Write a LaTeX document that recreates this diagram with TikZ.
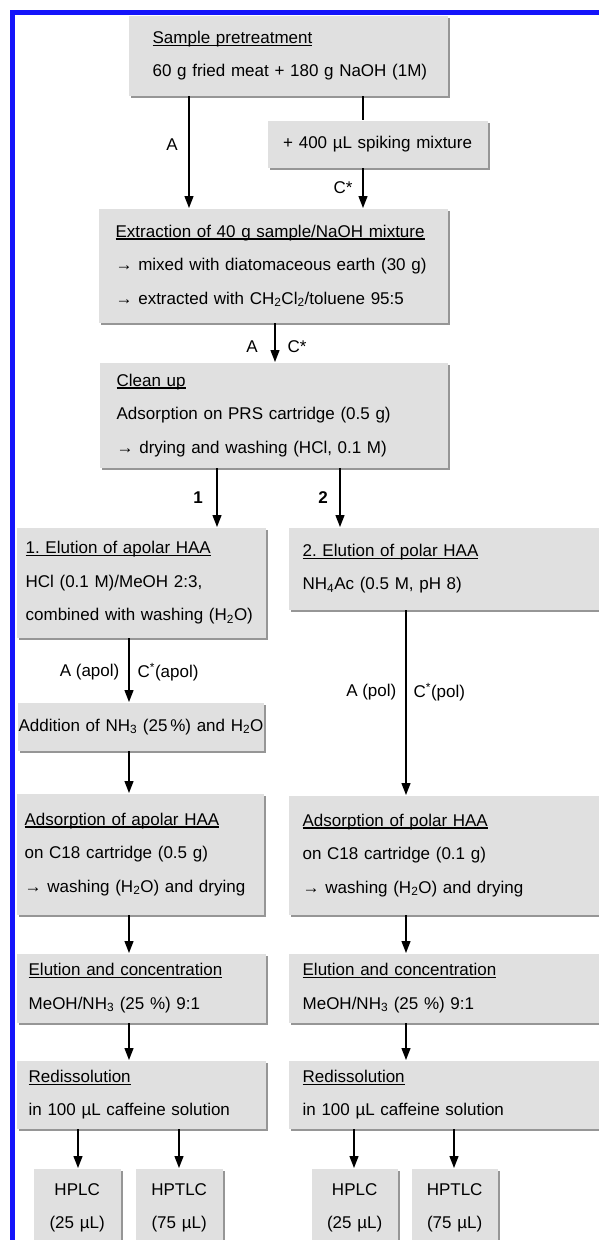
\documentclass[tikz,border=0pt]{standalone}
\usepackage{fontspec}
\setmainfont{Liberation Sans}
\usetikzlibrary{arrows.meta,shadows}
\frenchspacing
\definecolor{boxgray}{RGB}{224,224,224}
\definecolor{shadegray}{RGB}{150,150,150}
\definecolor{framebl}{RGB}{20,20,250}
\newcommand{\ulhead}[1]{\setbox0\hbox{#1}\rlap{\rule[-2.5pt]{\wd0}{1.1pt}}\box0}
\tikzset{
  every node/.style={font=\fontsize{17}{33.5}\selectfont},
  stepbox/.style={anchor=north west,fill=boxgray,drop shadow={shadow xshift=2pt,shadow yshift=-2pt,fill=shadegray,opacity=1},inner ysep=0pt,align=left},
  midbox/.style={stepbox,align=center},
  flowlabel/.style={inner sep=0pt}
}
\begin{document}
\begin{tikzpicture}[x=1pt,y=-1pt,>={Stealth[length=12pt,width=9pt,inset=0pt]},line width=1.3pt]
\useasboundingbox (0,0) rectangle (599,1240);
\draw[framebl,line width=5pt] (12.5,1250) -- (12.5,12.5) -- (610,12.5);
\node[stepbox,text width=271pt,inner xsep=24pt,minimum height=80pt] (pre) at (128,15) {\ulhead{Sample pretreatment}\\\mbox{60 g fried meat + 180 g NaOH (1M)}};
\node[midbox,text width=210pt,inner xsep=5pt,minimum height=47pt] (spike) at (267,120) {+ 400 µL spiking mixture};
\node[stepbox,text width=315pt,inner xsep=17pt,minimum height=114pt] (extr) at (98,208) {\ulhead{Extraction of 40 g sample/NaOH mixture}\\→ mixed with diatomaceous earth (30 g)\\→ extracted with CH\textsubscript{2}Cl\textsubscript{2}/toluene 95:5};
\node[stepbox,text width=314pt,inner xsep=17pt,minimum height=105pt] (clean) at (99,362) {\ulhead{Clean up}\\Adsorption on PRS cartridge (0.5 g)\\→ drying and washing (HCl, 0.1 M)};
\node[stepbox,text width=231pt,inner xsep=9pt,minimum height=110pt] (eluapol) at (16,527) {\ulhead{1. Elution of apolar HAA}\\HCl (0.1 M)/MeOH 2:3,\\\mbox{combined with washing (H\textsubscript{2}O)}};
\node[stepbox,text width=302pt,inner xsep=14pt,minimum height=82pt] (elupol) at (288,527) {\ulhead{2. Elution of polar HAA}\\NH\textsubscript{4}Ac (0.5 M, pH 8)};
\node[midbox,text width=244pt,inner xsep=1pt,minimum height=48pt] (addapol) at (17,702) {\mbox{Addition of NH\textsubscript{3} (25\,\%) and H\textsubscript{2}O}};
\node[stepbox,text width=231pt,inner xsep=8pt,minimum height=121pt] (adsapol) at (16,793) {\ulhead{Adsorption of apolar HAA}\\on C18 cartridge (0.5 g)\\\mbox{→ washing (H\textsubscript{2}O) and drying}};
\node[stepbox,text width=302pt,inner xsep=14pt,minimum height=119pt] (adspol) at (288,795) {\ulhead{Adsorption of polar HAA}\\on C18 cartridge (0.1 g)\\→ washing (H\textsubscript{2}O) and drying};
\node[stepbox,text width=225pt,inner xsep=12pt,minimum height=69pt] (concapol) at (16,953) {\ulhead{Elution and concentration}\\MeOH/NH\textsubscript{3} (25 \%) 9:1};
\node[stepbox,text width=302pt,inner xsep=14pt,minimum height=69pt] (concpol) at (288,953) {\ulhead{Elution and concentration}\\MeOH/NH\textsubscript{3} (25 \%) 9:1};
\node[stepbox,text width=225pt,inner xsep=12pt,minimum height=68pt] (redapol) at (16,1060) {\ulhead{Redissolution}\\in 100 µL caffeine solution};
\node[stepbox,text width=302pt,inner xsep=14pt,minimum height=68pt] (redpol) at (288,1060) {\ulhead{Redissolution}\\in 100 µL caffeine solution};
\node[midbox,text width=81pt,inner xsep=3pt,minimum height=78pt] (hplcapol) at (33,1168) {HPLC\\(25 µL)};
\node[midbox,text width=81pt,inner xsep=3pt,minimum height=78pt] (hptlcapol) at (135,1168) {HPTLC\\(75 µL)};
\node[midbox,text width=80pt,inner xsep=3pt,minimum height=78pt] (hplcpol) at (311,1168) {HPLC\\(25 µL)};
\node[midbox,text width=80pt,inner xsep=3pt,minimum height=78pt] (hptlcpol) at (411,1168) {HPTLC\\(75 µL)};
\coordinate (colA) at (189,0);
\coordinate (colC) at (363,0);
\coordinate (colM) at (275,0);
\coordinate (col1) at (217,0);
\coordinate (col2) at (340,0);
\coordinate (colL) at (129,0);
\coordinate (colR) at (406,0);
\coordinate (colh1) at (78,0);
\coordinate (colh2) at (179,0);
\coordinate (colh3) at (354,0);
\coordinate (colh4) at (454,0);
\draw[->] (pre.south -| colA) -- (extr.north -| colA);
\draw (pre.south -| colC) -- (spike.north -| colC);
\draw[->] (spike.south -| colC) -- (extr.north -| colC);
\draw[->] (extr.south -| colM) -- (clean.north -| colM);
\draw[->] (clean.south -| col1) -- (eluapol.north -| col1);
\draw[->] (clean.south -| col2) -- (elupol.north -| col2);
\draw[->] (eluapol.south -| colL) -- (addapol.north -| colL);
\draw[->] (addapol.south -| colL) -- (adsapol.north -| colL);
\draw[->] (adsapol.south -| colL) -- (concapol.north -| colL);
\draw[->] (concapol.south -| colL) -- (redapol.north -| colL);
\draw[->] (elupol.south -| colR) -- (adspol.north -| colR);
\draw[->] (adspol.south -| colR) -- (concpol.north -| colR);
\draw[->] (concpol.south -| colR) -- (redpol.north -| colR);
\draw[->] (redapol.south -| colh1) -- (hplcapol.north -| colh1);
\draw[->] (redapol.south -| colh2) -- (hptlcapol.north -| colh2);
\draw[->] (redpol.south -| colh3) -- (hplcpol.north -| colh3);
\draw[->] (redpol.south -| colh4) -- (hptlcpol.north -| colh4);
\node[flowlabel] (labA) at (172,145) {A};
\node[flowlabel] (labC) at (343,188) {C*};
\node[flowlabel] (labAclean) at (252,347) {A};
\node[flowlabel] (labCclean) at (297,347) {C*};
\node[flowlabel,font=\fontsize{17}{20}\selectfont\bfseries] (labone) at (198,498) {1};
\node[flowlabel,font=\fontsize{17}{20}\selectfont\bfseries] (labtwo) at (323,498) {2};
\node[flowlabel,anchor=east] (labAapol) at (120,672) {A (apol)};
\node[flowlabel,anchor=west] (labCapol) at (137,672) {C\textsuperscript{*}(apol)};
\node[flowlabel,anchor=east] (labApol) at (397,692) {A (pol)};
\node[flowlabel,anchor=west] (labCpol) at (413,692) {C\textsuperscript{*}(pol)};
\end{tikzpicture}
\end{document}
